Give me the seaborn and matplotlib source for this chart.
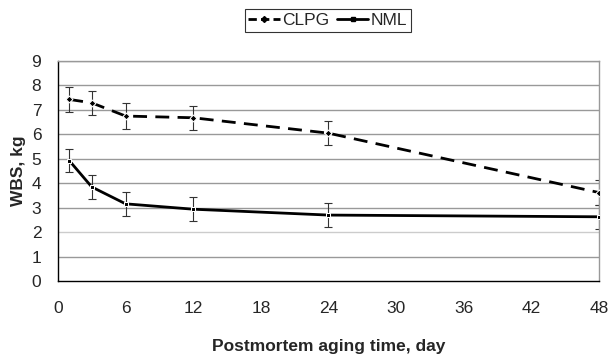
import matplotlib
matplotlib.use("Agg")
import matplotlib.pyplot as plt
import seaborn as sns
import pandas as pd
import numpy as np
from matplotlib.lines import Line2D

days = [1, 3, 6, 12, 24, 48]
clpg = [7.43, 7.29, 6.75, 6.68, 6.05, 3.62]
clpg_err = [0.50, 0.50, 0.52, 0.50, 0.50, 0.50]
nml = [4.93, 3.85, 3.16, 2.94, 2.70, 2.63]
nml_err = [0.48, 0.50, 0.50, 0.50, 0.50, 0.50]
series = ["CLPG", "NML"]
xticks = [0, 6, 12, 18, 24, 30, 36, 42, 48]
yticks = list(range(0, 10))

sns.set_style("white")
plt.rcParams['font.family'] = ['Liberation Sans', 'DejaVu Sans']

df = pd.DataFrame({
    "day": days * 2,
    "wbs": clpg + nml,
    "group": [series[0]] * len(days) + [series[1]] * len(days),
})

FS = 12.5
fig = plt.figure(figsize=(6.1, 3.59), dpi=100)
ax = fig.add_axes([0.095, 0.217, 0.887, 0.613])

for yv in yticks[1:]:
    ax.axhline(yv, color="#999999" if yv != 2 else "#cccccc", lw=1, zorder=0)

ax.errorbar(days, clpg, yerr=clpg_err, fmt="none", ecolor="#333333", elinewidth=0.8, capsize=3, capthick=0.8, zorder=2)
ax.errorbar(days, nml, yerr=nml_err, fmt="none", ecolor="#333333", elinewidth=0.8, capsize=3, capthick=0.8, zorder=2)

sns.lineplot(data=df, x="day", y="wbs", hue="group", style="group",
             palette={"CLPG": "black", "NML": "black"},
             dashes={"CLPG": (5, 3), "NML": ""},
             markers={"CLPG": "D", "NML": "s"},
             markersize=3.5, linewidth=2, ax=ax, legend=False, zorder=3)

ax.set_xlim(0, 48)
ax.set_ylim(0, 9)
ax.set_xticks(xticks)
ax.set_yticks(yticks)
ax.tick_params(axis="both", labelsize=FS, length=4, direction="out", color="black", width=1)
ax.tick_params(axis="x", pad=10)
ax.tick_params(axis="y", length=5, pad=7)
ax.set_xlabel("Postmortem aging time, day", fontsize=FS, fontweight="bold", labelpad=17)
ax.set_ylabel("WBS, kg", fontsize=FS, fontweight="bold", labelpad=4)

for s in ["left", "bottom"]:
    ax.spines[s].set_color("black")
    ax.spines[s].set_linewidth(1)
for s in ["top", "right"]:
    ax.spines[s].set_color("#999999")
    ax.spines[s].set_linewidth(1)

handles = [
    Line2D([], [], color="black", lw=2, dashes=(3, 1.5), marker="D", markersize=3),
    Line2D([], [], color="black", lw=2, marker="s", markersize=3),
]
leg = fig.legend(handles, series, loc="center", bbox_to_anchor=(328 / 610, 1 - 20.5 / 359),
                 ncol=2, frameon=True, fancybox=False, edgecolor="black", fontsize=FS,
                 handlelength=1.8, handletextpad=0.15, columnspacing=0.45, borderpad=0.2,
                 borderaxespad=0)
leg.get_frame().set_linewidth(0.8)

fig.savefig("out.png", dpi=100)
